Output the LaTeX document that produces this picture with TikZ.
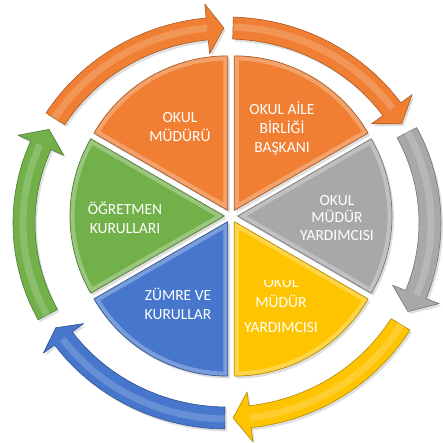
\documentclass[tikz,border=0pt]{standalone}
\usepackage{fontspec}
\setmainfont{Carlito}
\usetikzlibrary{shadows}
\definecolor{cOrange}{HTML}{F07F33}
\definecolor{cGray}{HTML}{A8A8A8}
\definecolor{cYellow}{HTML}{FFC400}
\definecolor{cBlue}{HTML}{4677CC}
\definecolor{cGreen}{HTML}{72B04A}
\tikzset{
  arrowbody/.style={fill=#1, draw=#1!70!black, line width=0.6pt, line join=round,
    drop shadow={opacity=0.25, shadow xshift=2pt, shadow yshift=-2.5pt}},
  slicebody/.style={fill=#1, line join=round,
    drop shadow={opacity=0.25, shadow xshift=2pt, shadow yshift=-2.5pt}},
  sliceedge/.style={draw=#1!70!black, line width=0.7pt, line join=round},
  bevel/.style={draw=white, opacity=0.28, line width=9pt},
  tubelight/.style={draw=white, opacity=0.18, line width=7pt},
  lbl/.style={text=white, align=center, font=\fontsize{15.5}{19}\selectfont, inner sep=0pt}
}
% #1 colour, #2 tail angle, #3 head back angle, #4 tip angle
\newcommand\ringarrow[4]{%
  \path[arrowbody=#1]
    ([shift={(ac)}]#2:214 and 206) arc[start angle=#2, end angle=#3, x radius=214, y radius=206]
    -- ([shift={(ac)}]#3:228 and 220)
    -- ([shift={(ac)}]#4:203 and 195)
    -- ([shift={(ac)}]#3:178 and 170)
    -- ([shift={(ac)}]#3:192 and 184) arc[start angle=#3, end angle=#2, x radius=192, y radius=184]
    -- cycle;
  \path[tubelight] ([shift={(ac)}]#2:204 and 196) arc[start angle=#2, end angle=#3, x radius=204, y radius=196];}
% #1 start angle, #2 end angle, #3 bisector
\newcommand\slicepath[3]{([shift={(pc)}]#3:6.5) -- ++(#1:154.5)
    arc[start angle=#1, end angle=#2, radius=154.5] -- cycle}
\newcommand\pieslice[4]{%
  \path[slicebody=#1] \slicepath{#2}{#3}{#4};
  \begin{scope}
    \clip \slicepath{#2}{#3}{#4};
    \path[bevel] \slicepath{#2}{#3}{#4};
  \end{scope}
  \path[sliceedge=#1] \slicepath{#2}{#3}{#4};}
\begin{document}
\begin{tikzpicture}[x=1pt,y=1pt]
\useasboundingbox (0,0) rectangle (442,443);
\coordinate (ac) at (227,220);
\coordinate (pc) at (231,227);
% outer ring of arrows
\ringarrow{cOrange}{147.7}{95.6}{90.9}
\ringarrow{cOrange}{88.3}{35.7}{30.6}
\ringarrow{cGray}{27.6}{-21.5}{-27}
\ringarrow{cYellow}{-31.3}{-83.5}{-88.3}
\ringarrow{cBlue}{-90.6}{-143.7}{-147.5}
\ringarrow{cGreen}{208}{156.5}{151.3}
% pie
\pieslice{cOrange}{90}{150}{120}
\pieslice{cOrange}{30}{90}{60}
\pieslice{cGray}{-30}{30}{0}
\pieslice{cYellow}{-90}{-30}{-60}
\pieslice{cBlue}{210}{270}{240}
\pieslice{cGreen}{150}{210}{180}
% labels
\node[lbl] (mudur) at (180,315.5) {OKUL\\MÜDÜRÜ};
\node[lbl] (aile) at (282,315) {OKUL AİLE\\BİRLİĞİ\\BAŞKANI};
\node[lbl, font=\fontsize{15.5}{17.5}\selectfont] (yard1) at (337,225) {OKUL\\MÜDÜR\\YARDIMCISI};
\node[lbl] (ogret) at (125,225.5) {ÖĞRETMEN\\KURULLARI};
\node[lbl] (zumre) at (178,139) {ZÜMRE VE\\KURULLAR};
\begin{scope}
  \clip (200,0) rectangle (360,162);
  \node[lbl, font=\fontsize{15.5}{20}\selectfont] (yard2) at (281,137.5) {OKUL\\MÜDÜR\\[5pt]YARDIMCISI};
\end{scope}
\end{tikzpicture}
\end{document}
